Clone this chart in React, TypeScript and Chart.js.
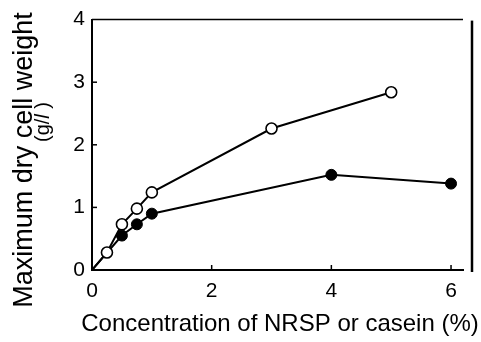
import React, { useEffect, useRef } from "react";
import { Chart, registerables } from "chart.js";

Chart.register(...registerables);

const nrspX = [0, 0.25, 0.5, 0.75, 1.0, 3.0, 5.0];
const nrspY = [0, 0.28, 0.73, 0.98, 1.24, 2.26, 2.84];
const caseinX = [0, 0.5, 0.75, 1.0, 4.0, 6.0];
const caseinY = [0, 0.55, 0.73, 0.9, 1.52, 1.38];
const xTicks = [0, 2, 4, 6];
const yTicks = [0, 1, 2, 3, 4];
const xTitle = "Concentration of NRSP or casein (%)";
const yTitle = "Maximum dry cell weight";

const FONT = "'Liberation Sans', Arial, sans-serif";

const framePlugin = {
  id: "framePlugin",
  afterDraw(chart: any) {
    const { ctx, chartArea, scales } = chart;
    const xs = scales.x;
    const ys = scales.y;
    ctx.save();
    ctx.strokeStyle = "#000";
    // top line
    ctx.lineWidth = 1.5;
    ctx.beginPath();
    ctx.moveTo(chartArea.left, chartArea.top);
    ctx.lineTo(chartArea.right, chartArea.top);
    ctx.stroke();
    // detached right line
    ctx.lineWidth = 2.5;
    ctx.beginPath();
    ctx.moveTo(chartArea.right + 9, chartArea.top + 1);
    ctx.lineTo(chartArea.right + 9, chartArea.bottom + 2);
    ctx.stroke();
    // inward ticks
    ctx.lineWidth = 1.5;
    for (const v of xTicks) {
      if (v === 0) continue;
      const px = xs.getPixelForValue(v);
      ctx.beginPath();
      ctx.moveTo(px, chartArea.bottom);
      ctx.lineTo(px, chartArea.bottom - 5);
      ctx.stroke();
    }
    for (const v of yTicks) {
      if (v === 0 || v === 4) continue;
      const py = ys.getPixelForValue(v);
      ctx.beginPath();
      ctx.moveTo(chartArea.left, py);
      ctx.lineTo(chartArea.left + 5, py);
      ctx.stroke();
    }
    // titles
    ctx.fillStyle = "#000";
    ctx.font = `24px ${FONT}`;
    ctx.textAlign = "center";
    ctx.textBaseline = "middle";
    ctx.fillText(xTitle, 280, 324);
    ctx.save();
    ctx.translate(32, 160);
    ctx.rotate(-Math.PI / 2);
    ctx.textBaseline = "alphabetic";
    ctx.font = `27px ${FONT}`;
    ctx.fillText(yTitle, 0, 0);
    ctx.restore();
    ctx.save();
    ctx.translate(49, 122);
    ctx.rotate(-Math.PI / 2);
    ctx.textBaseline = "alphabetic";
    const fs = 20;
    const a = "(g/";
    const b = "l";
    const c = " )";
    ctx.font = `${fs}px ${FONT}`;
    const wa = ctx.measureText(a).width;
    const wc = ctx.measureText(c).width;
    ctx.font = `italic ${fs}px ${FONT}`;
    const wb = ctx.measureText(b).width;
    const total = wa + wb + wc;
    const x0 = -total / 2;
    ctx.textAlign = "left";
    ctx.font = `${fs}px ${FONT}`;
    ctx.fillText(a, x0, 0);
    ctx.font = `italic ${fs}px ${FONT}`;
    ctx.fillText(b, x0 + wa, 0);
    ctx.font = `${fs}px ${FONT}`;
    ctx.fillText(c, x0 + wa + wb, 0);
    ctx.restore();
    ctx.restore();
  },
};

export default function App() {
  const ref = useRef<HTMLCanvasElement>(null);
  useEffect(() => {
    if (!ref.current) return;
    const chart = new Chart(ref.current, {
      type: "scatter",
      data: {
        datasets: [
          {
            data: nrspX.map((x, i) => ({ x, y: nrspY[i] })),
            showLine: true,
            borderColor: "#000",
            borderWidth: 2,
            pointBackgroundColor: "#fff",
            pointBorderColor: "#000",
            pointBorderWidth: 1.6,
            pointRadius: nrspX.map((x) => (x === 0 ? 0 : 5.5)),
          },
          {
            data: caseinX.map((x, i) => ({ x, y: caseinY[i] })),
            showLine: true,
            borderColor: "#000",
            borderWidth: 2,
            pointBackgroundColor: "#000",
            pointBorderColor: "#000",
            pointBorderWidth: 1,
            pointRadius: caseinX.map((x) => (x === 0 ? 0 : 5.5)),
          },
        ],
      },
      options: {
        animation: false,
        responsive: false,
        maintainAspectRatio: false,
        layout: { padding: { top: 10, right: 18, left: 0, bottom: 0 } },
        plugins: { legend: { display: false }, tooltip: { enabled: false } },
        scales: {
          x: {
            type: "linear",
            min: 0,
            max: 6.2,
            afterFit(s: any) {
              s.height = 72;
            },
            afterBuildTicks(s: any) {
              s.ticks = xTicks.map((v) => ({ value: v }));
            },
            grid: { display: false, drawTicks: false },
            border: { display: true, color: "#000", width: 2 },
            ticks: {
              color: "#000",
              font: { family: FONT, size: 21 },
              padding: 9,
              maxRotation: 0,
            },
          },
          y: {
            type: "linear",
            min: 0,
            max: 4,
            afterFit(s: any) {
              s.width = 92;
            },
            afterBuildTicks(s: any) {
              s.ticks = yTicks.map((v) => ({ value: v }));
            },
            grid: { display: false, drawTicks: false },
            border: { display: true, color: "#000", width: 2 },
            ticks: {
              color: "#000",
              font: { family: FONT, size: 21 },
              padding: 7,
            },
          },
        },
      },
      plugins: [framePlugin],
    });
    return () => chart.destroy();
  }, []);
  return (
    <div style={{ position: "fixed", left: 0, top: 0, width: 481, height: 342, background: "#fff" }}>
      <canvas ref={ref} width={481} height={342} style={{ width: 481, height: 342 }} />
    </div>
  );
}
